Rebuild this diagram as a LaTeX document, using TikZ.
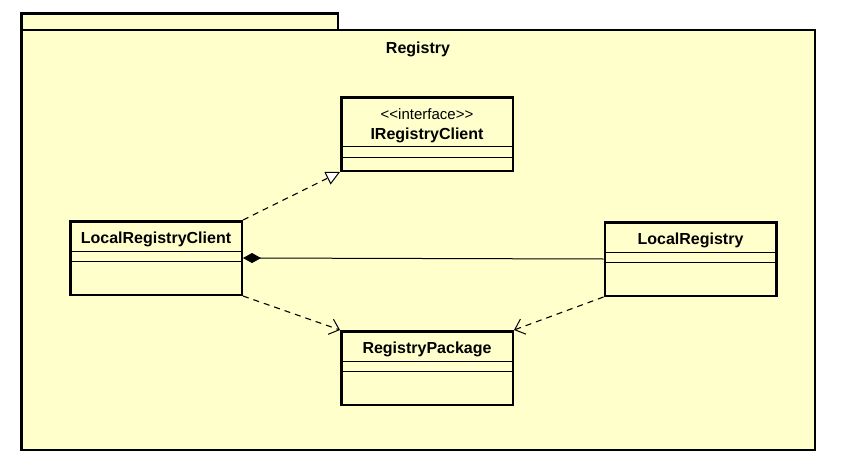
\documentclass[tikz,border=0pt]{standalone}
\usepackage{fontspec}
\setmainfont{Liberation Sans}
\newfontfamily\stfont{Liberation Sans}
\usetikzlibrary{arrows.meta,calc}
\definecolor{umlfill}{RGB}{255,255,204}
\begin{document}
\begin{tikzpicture}[x=1pt,y=-1pt,
  pkg/.style={draw=black, line width=2.5pt, fill=umlfill},
  classbox/.style={draw=black, line width=2.5pt, fill=umlfill, rectangle, inner sep=0pt,
    minimum width=171.5pt, minimum height=73.5pt},
  cname/.style={font=\fontsize{16}{18}\selectfont\bfseries, inner sep=0pt},
  stereo/.style={font=\stfont\fontsize{15}{17}\selectfont, inner sep=0pt},
  compline/.style={line width=0.9pt},
  realize/.style={line width=1.1pt, dash pattern=on 6pt off 5pt,
    -{Triangle[length=14pt,width=14pt,fill=white,line width=1pt]}},
  depend/.style={line width=1.1pt, dash pattern=on 6pt off 5pt,
    -{Straight Barb[length=9pt,width=16pt,line width=1pt]}},
  compose/.style={line width=1pt, {Diamond[length=18pt,width=10pt]}-}
]
\useasboundingbox (0,0) rectangle (860,471);
\fill[white] (0,0) rectangle (860,471);
% package
\draw[pkg] (21.25,13.25) rectangle (338,30);
\draw[pkg] (21.25,30) rectangle (814.75,449.75);
\node[cname] (pkgname) at (418,49) {Registry};

% classes
\node[classbox] (irc) at (427,134) {};
\node[stereo] (ircst) at (427,114) {<<interface>>};
\node[cname] (ircname) at (427,135) {IRegistryClient};
\draw[compline] ($(irc.west)+(0,12)$) -- ($(irc.east)+(0,12)$);
\draw[compline] ($(irc.west)+(0,23)$) -- ($(irc.east)+(0,23)$);

\node[classbox] (lrc) at (156,258) {};
\node[cname] (lrcname) at (156,239) {LocalRegistryClient};
\draw[compline] ($(lrc.west)+(0,-7)$) -- ($(lrc.east)+(0,-7)$);
\draw[compline] ($(lrc.west)+(0,3)$) -- ($(lrc.east)+(0,3)$);

\node[classbox] (lr) at (690.5,259) {};
\node[cname] (lrname) at (690.5,240) {LocalRegistry};
\draw[compline] ($(lr.west)+(0,-7)$) -- ($(lr.east)+(0,-7)$);
\draw[compline] ($(lr.west)+(0,3)$) -- ($(lr.east)+(0,3)$);

\node[classbox] (rp) at (427,368) {};
\node[cname] (rpname) at (427,349) {RegistryPackage};
\draw[compline] ($(rp.west)+(0,-7)$) -- ($(rp.east)+(0,-7)$);
\draw[compline] ($(rp.west)+(0,3)$) -- ($(rp.east)+(0,3)$);

% connectors
\draw[realize] (lrc.north east) -- (irc.south west);
\draw[compose] (lrc.east) -- (lr.west);
\draw[depend] (lrc.south east) -- (rp.north west);
\draw[depend] (lr.south west) -- (rp.north east);
\end{tikzpicture}
\end{document}
